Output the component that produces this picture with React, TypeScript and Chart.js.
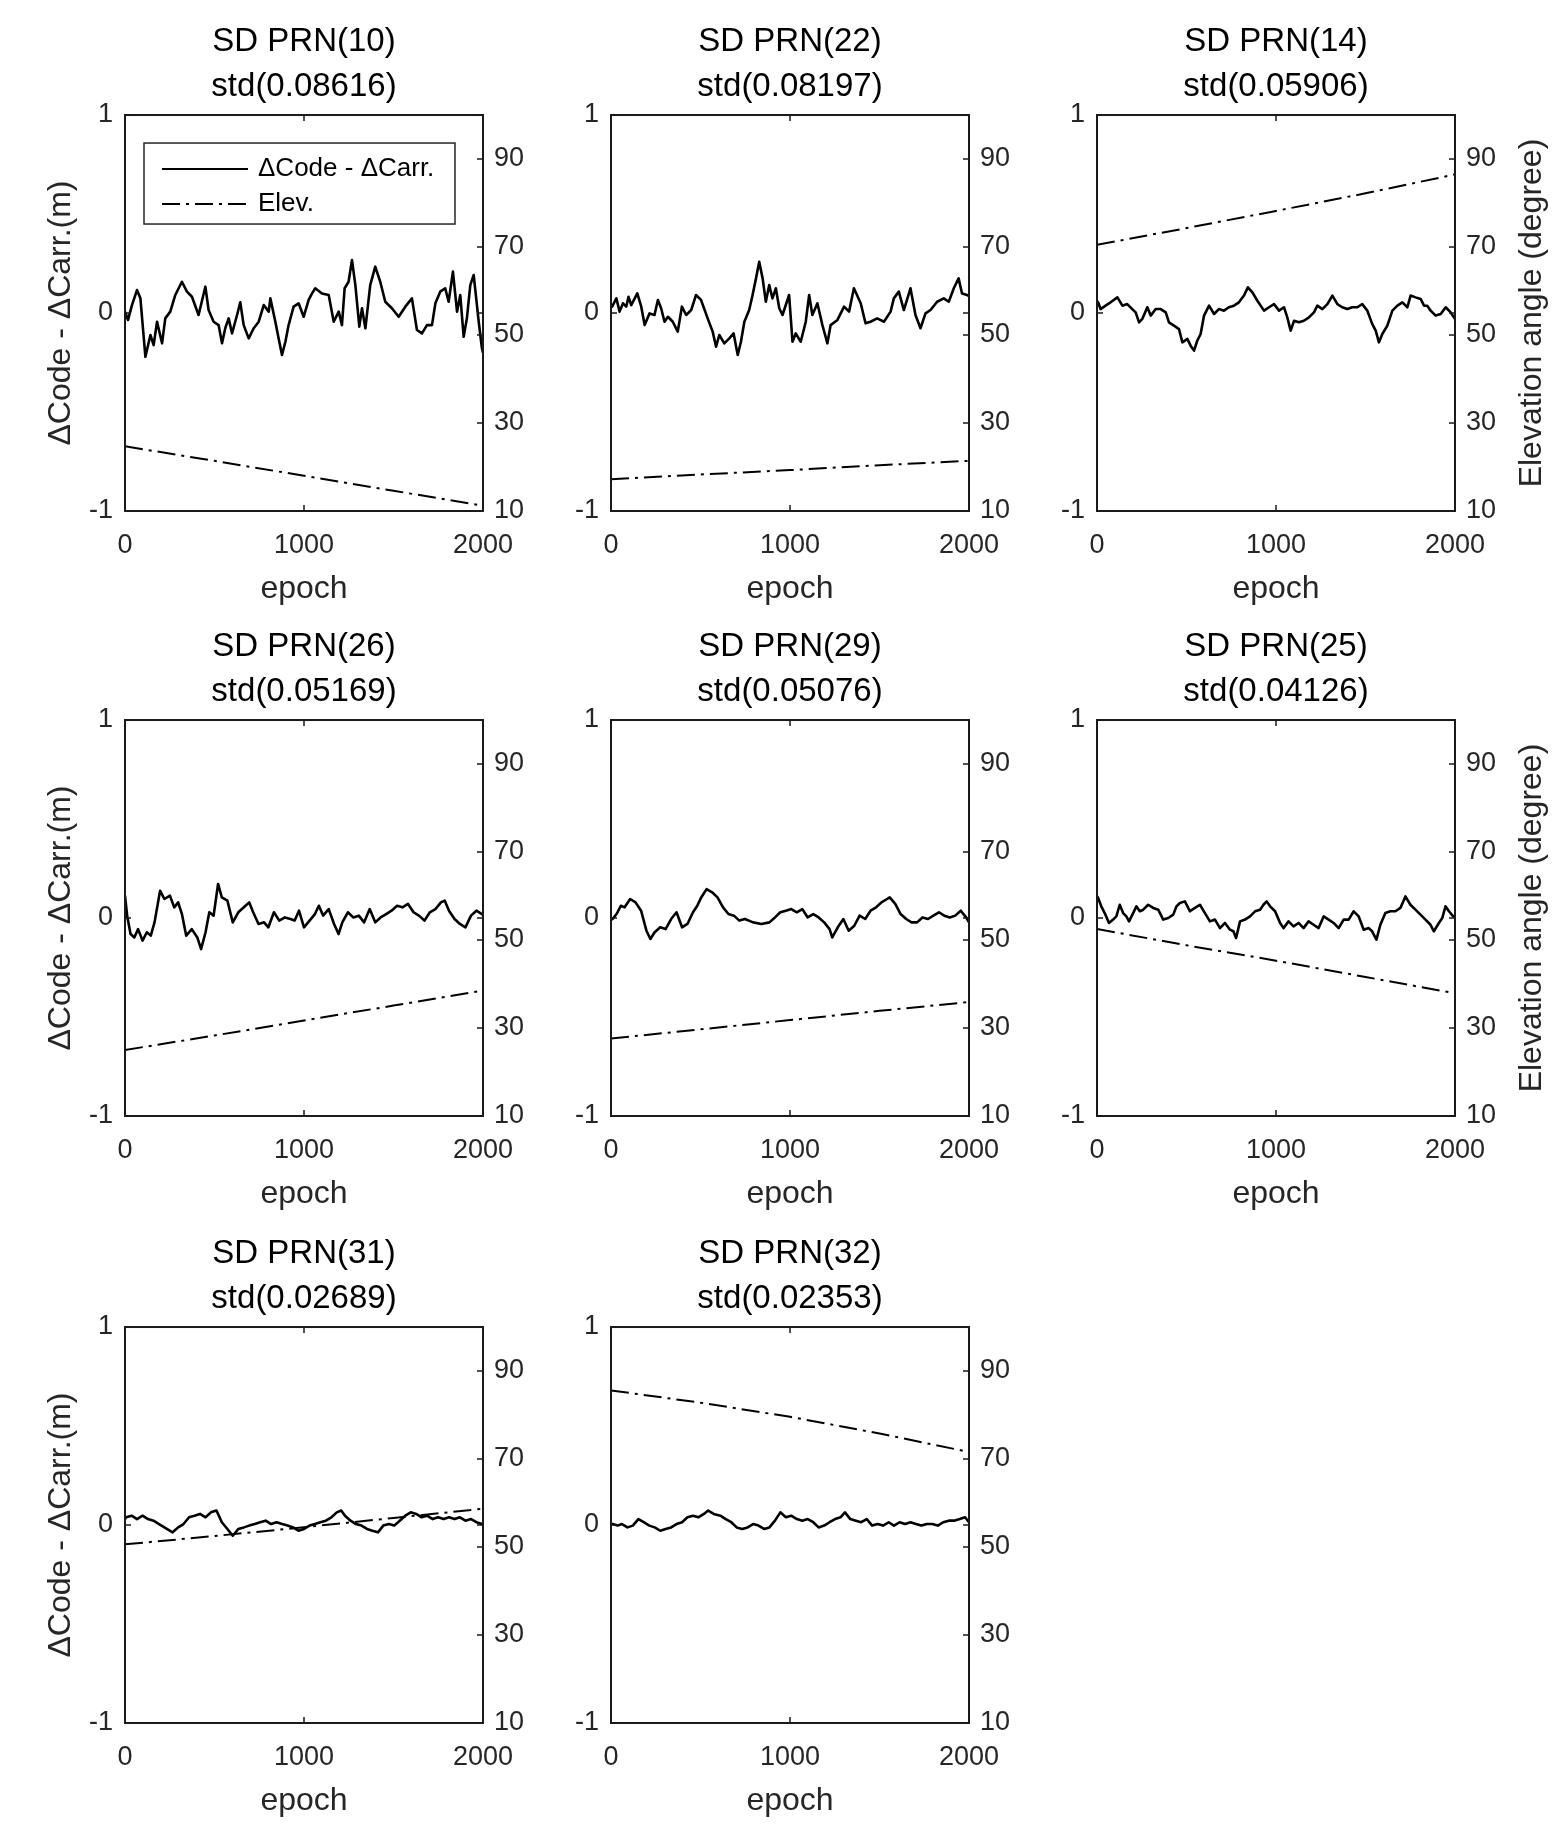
import React, { useEffect, useRef } from 'react';
import { Chart, registerables } from 'chart.js';

Chart.register(...registerables);

const FONT = '"Liberation Sans", Arial, Helvetica, sans-serif';
Chart.defaults.font.family = FONT;

// ---------------- data ----------------
const xTicks = [0, 1000, 2000];
const leftTicks = [-1, 0, 1];
const rightTicks = [10, 30, 50, 70, 90];
const elevEpochs = [0, 500, 1000, 1500, 2000];

const prn10Epochs = [0,17,39,67,86,114,142,160,179,207,225,253,281,318,346,374,411,449,467,495,523,542,560,579,598,626,644,663,691,719,747,775,803,812,840,858,877,896,914,942,970,998,1026,1045,1063,1100,1138,1166,1194,1212,1227,1249,1268,1287,1309,1324,1343,1370,1398,1426,1454,1491,1529,1566,1603,1631,1659,1687,1715,1734,1761,1789,1808,1832,1855,1873,1892,1910,1929,1948,1976,1994,2000];
const prn10Dcc = [0.007,-0.035,0.040,0.116,0.074,-0.221,-0.111,-0.162,-0.044,-0.153,-0.027,0.007,0.091,0.158,0.108,0.082,-0.010,0.133,0.015,-0.044,-0.061,-0.153,-0.077,-0.027,-0.103,-0.010,0.054,-0.061,-0.128,-0.077,-0.044,0.040,0.007,0.074,-0.044,-0.128,-0.212,-0.145,-0.061,0.032,0.049,-0.019,0.066,0.099,0.125,0.099,0.091,-0.044,0.007,-0.061,0.125,0.158,0.268,0.141,-0.069,0.024,-0.077,0.141,0.234,0.158,0.057,0.024,-0.019,0.032,0.074,-0.086,-0.103,-0.061,-0.061,0.049,0.108,0.125,0.057,0.209,0.007,0.091,-0.120,-0.027,0.141,0.192,-0.044,-0.178,-0.2];
const prn10Elev = [24.7, 21.4, 18.0, 14.6, 11.2];

const prn22Epochs = [0,6,30,48,67,85,98,113,147,169,188,215,243,262,280,299,318,345,373,396,420,448,475,503,540,568,587,605,633,661,685,708,726,745,772,791,810,828,847,865,884,902,921,940,958,995,1014,1032,1060,1088,1107,1125,1153,1181,1209,1227,1265,1302,1330,1357,1395,1422,1450,1487,1525,1562,1580,1608,1636,1673,1701,1729,1757,1785,1822,1859,1887,1915,1942,1961,1989,2000];
const prn22Dcc = [0.040,0.032,0.074,0.007,0.049,0.032,0.082,0.040,0.099,0.032,-0.061,-0.002,-0.010,0.066,0.024,-0.044,-0.019,-0.044,-0.094,0.032,-0.010,0.015,0.091,0.066,-0.027,-0.094,-0.170,-0.111,-0.153,-0.128,-0.103,-0.212,-0.145,-0.044,0.015,0.091,0.175,0.259,0.175,0.057,0.141,0.074,0.125,0.024,-0.010,0.091,-0.145,-0.103,-0.145,-0.044,0.091,-0.010,0.049,-0.061,-0.153,-0.061,-0.035,0.032,0.007,0.125,0.049,-0.052,-0.044,-0.027,-0.044,0.007,0.074,0.108,0.015,0.125,-0.010,-0.077,-0.002,0.015,0.057,0.074,0.057,0.125,0.175,0.099,0.091,0.085];
const prn22Elev = [17.2, 18.3, 19.3, 20.4, 21.4];

const prn14Epochs = [0,6,20,48,76,114,142,169,197,216,235,253,281,300,328,356,384,402,430,458,477,505,523,542,560,579,598,626,654,681,709,737,765,793,821,843,868,896,933,961,989,1017,1045,1063,1082,1101,1128,1156,1184,1212,1231,1259,1287,1315,1343,1370,1398,1426,1454,1482,1510,1538,1557,1575,1594,1622,1650,1678,1706,1734,1752,1780,1808,1827,1845,1864,1892,1920,1948,1976,1994,2000];
const prn14Dcc = [0.060,0.054,0.020,0.037,0.054,0.079,0.037,0.045,0.020,0.003,-0.047,-0.030,0.029,-0.013,0.020,0.020,0.003,-0.047,-0.064,-0.081,-0.148,-0.131,-0.165,-0.190,-0.140,-0.106,-0.013,0.037,-0.005,0.020,0.012,0.029,0.037,0.054,0.088,0.130,0.104,0.062,0.012,0.029,0.045,0.012,0.029,-0.022,-0.089,-0.039,-0.047,-0.039,-0.022,0.003,0.037,0.020,0.045,0.088,0.045,0.029,0.020,0.029,0.029,0.045,0.012,-0.056,-0.089,-0.148,-0.106,-0.064,0.012,0.037,0.054,0.029,0.088,0.079,0.071,0.037,0.037,0.012,-0.013,-0.005,0.029,0.003,-0.022,-0.030];
const prn14Elev = [70.5, 74.3, 78.2, 82.2, 86.5];

const prn26Epochs = [0,12,31,52,73,98,122,144,165,196,220,251,275,297,318,342,373,404,425,450,471,495,520,541,572,602,633,664,694,716,746,777,801,832,862,893,924,948,972,1000,1031,1061,1083,1107,1138,1168,1193,1214,1245,1275,1306,1336,1367,1398,1428,1459,1489,1520,1550,1581,1612,1642,1673,1703,1734,1765,1786,1810,1841,1871,1902,1933,1963,1994,2000];
const prn26Dcc = [0.113,0.012,-0.081,-0.098,-0.056,-0.114,-0.072,-0.089,-0.022,0.138,0.096,0.113,0.054,0.079,0.020,-0.089,-0.056,-0.098,-0.157,-0.072,0.029,0.012,0.172,0.104,0.088,-0.022,0.029,0.054,0.079,0.029,-0.030,-0.022,-0.047,0.029,-0.013,0.003,-0.005,-0.013,0.037,-0.047,-0.013,0.020,0.062,0.012,0.045,-0.030,-0.081,-0.022,0.029,0.003,0.012,-0.022,0.045,-0.022,0.003,0.020,0.037,0.062,0.054,0.071,0.029,0.012,-0.013,0.029,0.045,0.079,0.088,0.037,-0.005,-0.030,-0.047,0.012,0.037,0.020,0.015];
const prn26Elev = [25.0, 28.3, 31.7, 35.1, 38.5];

const prn29Epochs = [0,9,31,55,76,107,137,168,198,220,244,275,305,336,366,397,427,458,482,504,534,565,595,626,656,687,717,748,794,840,885,916,946,977,1007,1038,1069,1099,1130,1160,1191,1221,1236,1267,1298,1328,1359,1389,1420,1450,1481,1511,1542,1557,1588,1618,1649,1679,1710,1740,1771,1801,1832,1862,1893,1923,1954,1984,2000];
const prn29Dcc = [-0.010,-0.005,0.020,0.062,0.054,0.096,0.079,0.037,-0.064,-0.106,-0.072,-0.047,-0.056,-0.005,0.029,-0.047,-0.030,0.029,0.062,0.104,0.146,0.130,0.104,0.054,0.020,0.012,-0.013,-0.005,-0.022,-0.030,-0.022,0.003,0.029,0.037,0.045,0.029,0.045,0.003,0.020,0.003,-0.022,-0.056,-0.098,-0.047,-0.005,-0.064,-0.039,0.012,-0.005,0.037,0.054,0.079,0.096,0.104,0.071,0.020,-0.005,-0.022,-0.022,0.003,-0.005,0.012,0.029,0.012,0.003,0.012,0.037,0.003,-0.022];
const prn29Elev = [27.6, 29.7, 31.8, 33.9, 35.9];

const prn25Epochs = [0,6,24,43,67,90,108,127,146,164,179,202,220,239,258,286,314,342,370,398,426,444,463,491,519,547,575,603,631,659,687,715,743,762,777,799,827,855,883,911,930,948,967,995,1023,1042,1070,1098,1126,1154,1182,1210,1238,1266,1294,1322,1350,1378,1406,1434,1462,1490,1518,1537,1561,1583,1611,1639,1667,1695,1723,1751,1779,1807,1835,1863,1882,1910,1929,1947,1966,1990,2000];
const prn25Dcc = [0.110,0.101,0.059,0.025,-0.025,-0.008,0.008,0.067,0.025,0.008,-0.017,0.025,0.059,0.034,0.042,0.067,0.051,0.042,-0.008,0.000,0.017,0.059,0.076,0.084,0.034,0.051,0.067,0.025,-0.017,-0.008,-0.051,-0.025,-0.059,-0.067,-0.101,-0.017,-0.008,0.008,0.034,0.042,0.067,0.084,0.059,0.034,-0.025,-0.051,-0.017,-0.042,-0.025,-0.051,-0.017,-0.034,-0.051,0.008,-0.008,-0.025,-0.051,-0.008,-0.008,0.034,0.008,-0.059,-0.051,-0.067,-0.109,-0.034,0.025,0.034,0.034,0.051,0.109,0.067,0.042,0.017,-0.008,-0.034,-0.067,-0.025,0.000,0.059,0.034,0.008,0.010];
const prn25Elev = [52.5, 48.8, 45.3, 41.6, 37.9];

const prn31Epochs = [0,6,37,67,98,128,159,190,220,266,297,327,358,388,419,450,480,511,541,572,602,633,664,694,725,755,786,816,847,878,908,939,969,1000,1031,1061,1092,1122,1153,1183,1208,1229,1260,1290,1321,1352,1382,1413,1443,1474,1504,1535,1566,1596,1627,1657,1688,1719,1749,1780,1810,1841,1871,1902,1933,1963,1994,2000];
const prn31Dcc = [0.030,0.039,0.047,0.030,0.047,0.030,0.022,0.005,-0.012,-0.037,-0.012,0.005,0.039,0.047,0.056,0.039,0.064,0.073,0.014,-0.020,-0.054,-0.020,-0.012,-0.003,0.005,0.014,0.022,0.005,0.014,0.005,-0.003,-0.012,-0.029,-0.020,-0.003,0.005,0.014,0.022,0.039,0.064,0.073,0.047,0.022,0.005,-0.003,-0.020,-0.029,-0.037,-0.003,0.005,-0.003,0.022,0.047,0.064,0.056,0.039,0.047,0.030,0.039,0.030,0.039,0.030,0.039,0.022,0.030,0.014,0.005,0.000];
const prn31Elev = [50.6, 52.5, 54.5, 56.6, 58.7];

const prn32Epochs = [0,9,37,61,92,122,153,183,214,244,275,305,336,366,397,427,458,488,519,543,574,611,641,672,702,733,763,794,824,855,885,916,946,977,1007,1038,1069,1099,1130,1160,1191,1221,1252,1282,1307,1337,1368,1398,1429,1459,1490,1520,1551,1581,1612,1643,1673,1704,1734,1765,1795,1826,1856,1887,1917,1948,1978,2000];
const prn32Dcc = [0.005,0.005,-0.003,0.005,-0.012,-0.003,0.030,0.014,-0.003,-0.012,-0.029,-0.020,-0.012,0.005,0.014,0.039,0.047,0.039,0.056,0.073,0.056,0.047,0.030,0.014,-0.012,-0.020,-0.012,0.005,-0.003,-0.020,-0.012,0.022,0.064,0.039,0.047,0.030,0.022,0.030,0.014,-0.012,-0.003,0.014,0.030,0.039,0.064,0.030,0.022,0.014,0.030,-0.003,0.005,-0.003,0.014,-0.003,0.014,0.005,0.014,0.005,-0.003,0.005,0.005,-0.003,0.014,0.022,0.022,0.030,0.039,0.014];
const prn32Elev = [85.6, 82.8, 79.6, 75.8, 71.6];

const prnNames = ['10', '22', '14', '26', '29', '25', '31', '32'];
const stdValues = ['0.08616', '0.08197', '0.05906', '0.05169', '0.05076', '0.04126', '0.02689', '0.02353'];
const epochSets = [prn10Epochs, prn22Epochs, prn14Epochs, prn26Epochs, prn29Epochs, prn25Epochs, prn31Epochs, prn32Epochs];
const dccSets = [prn10Dcc, prn22Dcc, prn14Dcc, prn26Dcc, prn29Dcc, prn25Dcc, prn31Dcc, prn32Dcc];
const elevSets = [prn10Elev, prn22Elev, prn14Elev, prn26Elev, prn29Elev, prn25Elev, prn31Elev, prn32Elev];

const legendLabels = ['\u0394Code - \u0394Carr.', 'Elev.'];
const xTitle = 'epoch';
const leftTitle = '\u0394Code - \u0394Carr.(m)';
const rightTitle = 'Elevation angle (degree)';

// ---------------- layout ----------------
const COL_LEFT = [125, 611, 1097];
const ROW_TOP = [115, 720, 1327];
const PLOT_W = 358;
const PLOT_H = 396;
const LEFT_W = 125;
const RIGHT_W = 100;
const TITLE_H = 110;
const BOTTOM_H = 100;
const CANVAS_W = LEFT_W + PLOT_W + RIGHT_W;
const CANVAS_H = TITLE_H + PLOT_H + BOTTOM_H;
const TXT = '#262626';
const DASH_DOT = [18, 6, 3, 6];
const TICK_LEN = 6;

type PanelSpec = {
  idx: number;
  row: number;
  col: number;
};

function makeFramePlugin(idx: number, row: number, col: number) {
  return {
    id: 'matlabFrame' + idx,
    afterDatasetsDraw(chart: any) {
      const { ctx, chartArea, scales } = chart;
      const { left, right, top, bottom } = chartArea;
      ctx.save();
      // inward ticks
      ctx.strokeStyle = '#1a1a1a';
      ctx.lineWidth = 1.5;
      ctx.beginPath();
      xTicks.forEach((v) => {
        const px = scales.x.getPixelForValue(v);
        ctx.moveTo(px, bottom);
        ctx.lineTo(px, bottom - TICK_LEN);
        ctx.moveTo(px, top);
        ctx.lineTo(px, top + TICK_LEN);
      });
      leftTicks.forEach((v) => {
        const py = scales.y.getPixelForValue(v);
        ctx.moveTo(left, py);
        ctx.lineTo(left + TICK_LEN, py);
        ctx.moveTo(right, py);
        ctx.lineTo(right - TICK_LEN, py);
      });
      rightTicks.forEach((v) => {
        const py = scales.y2.getPixelForValue(v);
        ctx.moveTo(right, py);
        ctx.lineTo(right - TICK_LEN, py);
      });
      ctx.stroke();
      // box
      ctx.lineWidth = 2;
      ctx.strokeRect(left, top, right - left, bottom - top);

      // legend (first panel only)
      if (idx === 0) {
        const bx = left + 19;
        const by = top + 28;
        ctx.fillStyle = '#ffffff';
        ctx.fillRect(bx, by, 311, 81);
        ctx.strokeStyle = '#262626';
        ctx.lineWidth = 1.5;
        ctx.strokeRect(bx, by, 311, 81);
        const ds = chart.data.datasets;
        const entries = [ds[1], ds[0]];
        entries.forEach((d: any, i: number) => {
          const y = top + 54 + i * 35;
          ctx.strokeStyle = '#000';
          ctx.lineWidth = 2;
          ctx.setLineDash(d.borderDash || []);
          ctx.beginPath();
          ctx.moveTo(left + 37, y);
          ctx.lineTo(left + 123, y);
          ctx.stroke();
          ctx.setLineDash([]);
          ctx.fillStyle = '#000';
          ctx.font = '26px ' + FONT;
          ctx.textAlign = 'left';
          ctx.textBaseline = 'middle';
          ctx.fillText(d.label, left + 133, y);
        });
      }

      // right axis title (third column, first two rows)
      if (col === 2 && row < 2) {
        ctx.fillStyle = TXT;
        ctx.font = '32px ' + FONT;
        ctx.textAlign = 'center';
        ctx.textBaseline = 'alphabetic';
        ctx.translate(right + 86, (top + bottom) / 2);
        ctx.rotate(-Math.PI / 2);
        ctx.fillText(rightTitle, 0, 0);
      }
      ctx.restore();
    },
  };
}

function Panel({ idx, row, col }: PanelSpec) {
  const ref = useRef<HTMLCanvasElement | null>(null);

  useEffect(() => {
    const canvas = ref.current;
    if (!canvas) return;
    const epochs = epochSets[idx];
    const dcc = dccSets[idx];
    const elev = elevSets[idx];

    const chart = new Chart(canvas, {
      type: 'line',
      data: {
        datasets: [
          {
            label: legendLabels[1],
            data: elevEpochs.map((e, i) => ({ x: e, y: elev[i] })),
            borderColor: '#000',
            borderWidth: 2,
            borderDash: DASH_DOT,
            pointRadius: 0,
            tension: 0,
            fill: false,
            yAxisID: 'y2',
          },
          {
            label: legendLabels[0],
            data: epochs.map((e, i) => ({ x: e, y: dcc[i] })),
            borderColor: '#000',
            borderWidth: 2.6,
            borderJoinStyle: 'round',
            pointRadius: 0,
            tension: 0,
            fill: false,
            yAxisID: 'y',
          },
        ],
      },
      options: {
        responsive: false,
        maintainAspectRatio: false,
        animation: false,
        devicePixelRatio: 1,
        layout: { padding: 0 },
        events: [],
        plugins: {
          legend: { display: false },
          tooltip: { enabled: false },
          title: {
            display: true,
            fullSize: false,
            text: ['SD PRN(' + prnNames[idx] + ')', 'std(' + stdValues[idx] + ')'],
            color: '#000',
            font: { size: 33, weight: 'normal', lineHeight: 1.355, family: FONT },
            padding: { top: 15, bottom: 5.6 },
          },
        },
        scales: {
          x: {
            type: 'linear',
            position: 'bottom',
            min: 0,
            max: 2000,
            grid: { display: false, drawTicks: false },
            border: { display: false },
            afterBuildTicks: (s: any) => {
              s.ticks = xTicks.map((v) => ({ value: v }));
            },
            ticks: {
              autoSkip: false,
              maxRotation: 0,
              minRotation: 0,
              padding: 18,
              color: TXT,
              font: { size: 27, family: FONT },
              callback: (v: any) => String(v),
            },
            title: {
              display: true,
              text: xTitle,
              color: TXT,
              font: { size: 32, family: FONT },
              padding: { top: 0, bottom: 3 },
            },
            afterFit: (s: any) => {
              s.height = BOTTOM_H;
            },
          },
          y: {
            type: 'linear',
            position: 'left',
            min: -1,
            max: 1,
            grid: { display: false, drawTicks: false },
            border: { display: false },
            afterBuildTicks: (s: any) => {
              s.ticks = leftTicks.map((v) => ({ value: v }));
            },
            ticks: {
              autoSkip: false,
              padding: 12,
              color: TXT,
              font: { size: 27, family: FONT },
              callback: (v: any) => String(v),
            },
            title: {
              display: col === 0,
              text: leftTitle,
              color: TXT,
              font: { size: 32, family: FONT },
              padding: { top: 42, bottom: 0 },
            },
            afterFit: (s: any) => {
              s.width = LEFT_W;
            },
          },
          y2: {
            type: 'linear',
            position: 'right',
            min: 10,
            max: 100,
            grid: { display: false, drawTicks: false },
            border: { display: false },
            afterBuildTicks: (s: any) => {
              s.ticks = rightTicks.map((v) => ({ value: v }));
            },
            ticks: {
              autoSkip: false,
              padding: 11,
              color: TXT,
              font: { size: 27, family: FONT },
              callback: (v: any) => String(v),
            },
            afterFit: (s: any) => {
              s.width = RIGHT_W;
            },
          },
        },
      } as any,
      plugins: [makeFramePlugin(idx, row, col)],
    });
    return () => chart.destroy();
  }, [idx, row, col]);

  return (
    <canvas
      ref={ref}
      width={CANVAS_W}
      height={CANVAS_H}
      style={{
        position: 'absolute',
        left: COL_LEFT[col] - LEFT_W,
        top: ROW_TOP[row] - TITLE_H,
        width: CANVAS_W,
        height: CANVAS_H,
      }}
    />
  );
}

export default function App() {
  const specs: PanelSpec[] = prnNames.map((_, i) => ({ idx: i, row: Math.floor(i / 3), col: i % 3 }));
  return (
    <div
      style={{
        position: 'absolute',
        left: 0,
        top: 0,
        width: 1558,
        height: 1842,
        background: '#ffffff',
        overflow: 'hidden',
      }}
    >
      {specs.map((s) => (
        <Panel key={s.idx} idx={s.idx} row={s.row} col={s.col} />
      ))}
    </div>
  );
}
